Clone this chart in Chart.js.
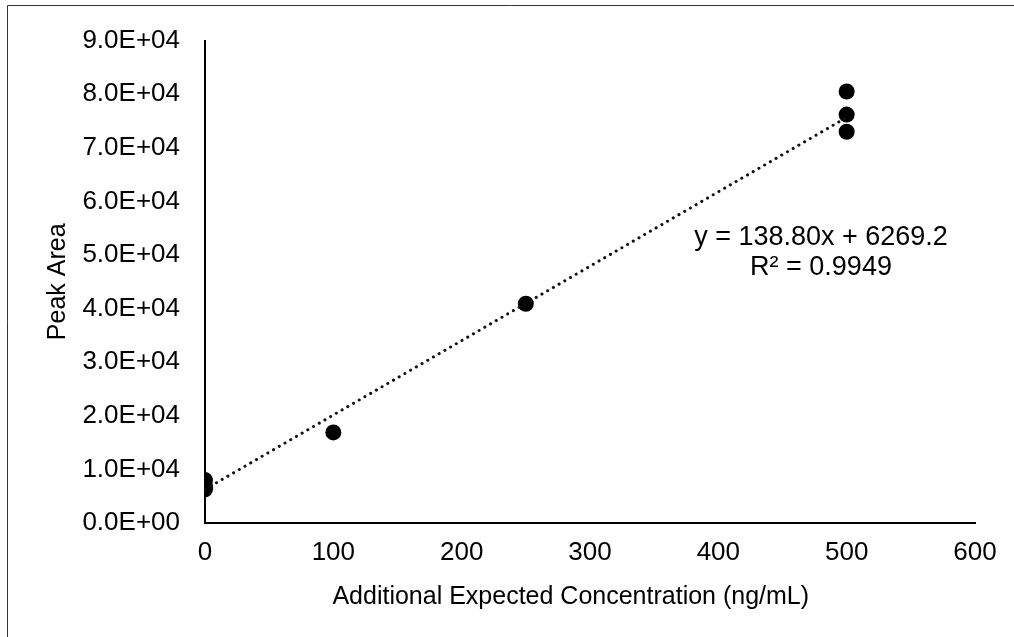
<!DOCTYPE html>
<html>
<head>
<meta charset="utf-8">
<script src="https://cdn.jsdelivr.net/npm/chart.js@4.4.1/dist/chart.umd.min.js"></script>
<style>
  body { margin: 0; background: #fff; }
  canvas { display: block; }
</style>
</head>
<body>
<canvas id="calib" width="1014" height="637"></canvas>
<script>
// measured data (x = added concentration, y = peak area)
const concentrations = [0, 0, 0, 100, 250, 500, 500, 500];
const peakAreas = [8000, 6900, 6300, 16900, 40900, 80500, 76200, 73000];

// linear trendline endpoints, taken from y = 138.80x + 6269.2
const trendX = [0, 500];
const trendY = [6269.2, 75669.2];
const equationLines = ['y = 138.80x + 6269.2', 'R\u00b2 = 0.9949'];

const xTickValues = [0, 100, 200, 300, 400, 500, 600];
const yTickValues = [0, 10000, 20000, 30000, 40000, 50000, 60000, 70000, 80000, 90000];
const xTitle = 'Additional Expected Concentration (ng/mL)';

const FONT = "'Liberation Sans', Arial, sans-serif";

function sci(v) {
    const parts = v.toExponential(1).split('e');
    const sign = parts[1][0];
    const digits = parts[1].slice(1).padStart(2, '0');
    return parts[0] + 'E' + sign + digits;
}

// equation label, x title (Excel centres it a bit left of the axis) and outer frame
const extras = {
    id: 'extras',
    afterDatasetsDraw(chart) {
        const ctx = chart.ctx;
        const xs = chart.scales.x;
        const ys = chart.scales.y;
        ctx.save();
        ctx.fillStyle = '#000';
        ctx.font = '27px ' + FONT;
        ctx.textAlign = 'center';
        ctx.textBaseline = 'middle';
        const cx = xs.getPixelForValue(480);
        ctx.fillText(equationLines[0], cx, ys.getPixelForValue(53300));
        ctx.fillText(equationLines[1], cx, ys.getPixelForValue(47700));

        ctx.font = '25px ' + FONT;
        ctx.fillText(xTitle, xs.getPixelForValue(285), xs.bottom - 40);
        ctx.restore();
    },
    afterDraw(chart) {
        const ctx = chart.ctx;
        ctx.save();
        ctx.strokeStyle = '#333';
        ctx.lineWidth = 1;
        ctx.beginPath();
        ctx.moveTo(7.5, chart.height);
        ctx.lineTo(7.5, 5.5);
        ctx.lineTo(chart.width, 5.5);
        ctx.stroke();
        ctx.restore();
    }
};

const ctx = document.getElementById('calib');
new Chart(ctx, {
    type: 'scatter',
    data: {
        datasets: [{
            type: 'line',
            label: 'Trend',
            data: trendX.map((x, i) => ({ x: x, y: trendY[i] })),
            borderColor: '#111',
            borderWidth: 3,
            borderDash: [0.1, 6.5],
            borderCapStyle: 'round',
            pointRadius: 0,
            fill: false,
            order: 0
        }, {
            label: 'Peak Area',
            data: concentrations.map((x, i) => ({ x: x, y: peakAreas[i] })),
            backgroundColor: '#000',
            borderWidth: 0,
            pointRadius: 8,
            pointHoverRadius: 8,
            order: 1
        }]
    },
    options: {
        responsive: false,
        animation: false,
        layout: { padding: { left: 8, top: 36, right: 39, bottom: 0 } },
        plugins: {
            legend: { display: false },
            tooltip: { enabled: false }
        },
        scales: {
            x: {
                type: 'linear',
                min: 0,
                max: 600,
                afterBuildTicks: (s) => { s.ticks = xTickValues.map(v => ({ value: v })); },
                afterFit: (s) => { s.height = 114; },
                grid: { display: false, drawTicks: false },
                border: { display: true, color: '#000', width: 2 },
                ticks: {
                    color: '#000',
                    padding: 14,
                    font: { family: FONT, size: 26 }
                },
                title: { display: false }
            },
            y: {
                type: 'linear',
                min: 0,
                max: 90000,
                afterBuildTicks: (s) => { s.ticks = yTickValues.map(v => ({ value: v })); },
                afterFit: (s) => { s.width = 197; },
                grid: { display: false, drawTicks: false },
                border: { display: true, color: '#000', width: 2 },
                ticks: {
                    color: '#000',
                    padding: 25,
                    font: { family: FONT, size: 26 },
                    callback: (v) => sci(v)
                },
                title: {
                    display: true,
                    text: 'Peak Area',
                    color: '#000',
                    font: { family: FONT, size: 25 },
                    padding: { top: 35, bottom: 0 }
                }
            }
        }
    },
    plugins: [extras]
});
</script>
</body>
</html>
